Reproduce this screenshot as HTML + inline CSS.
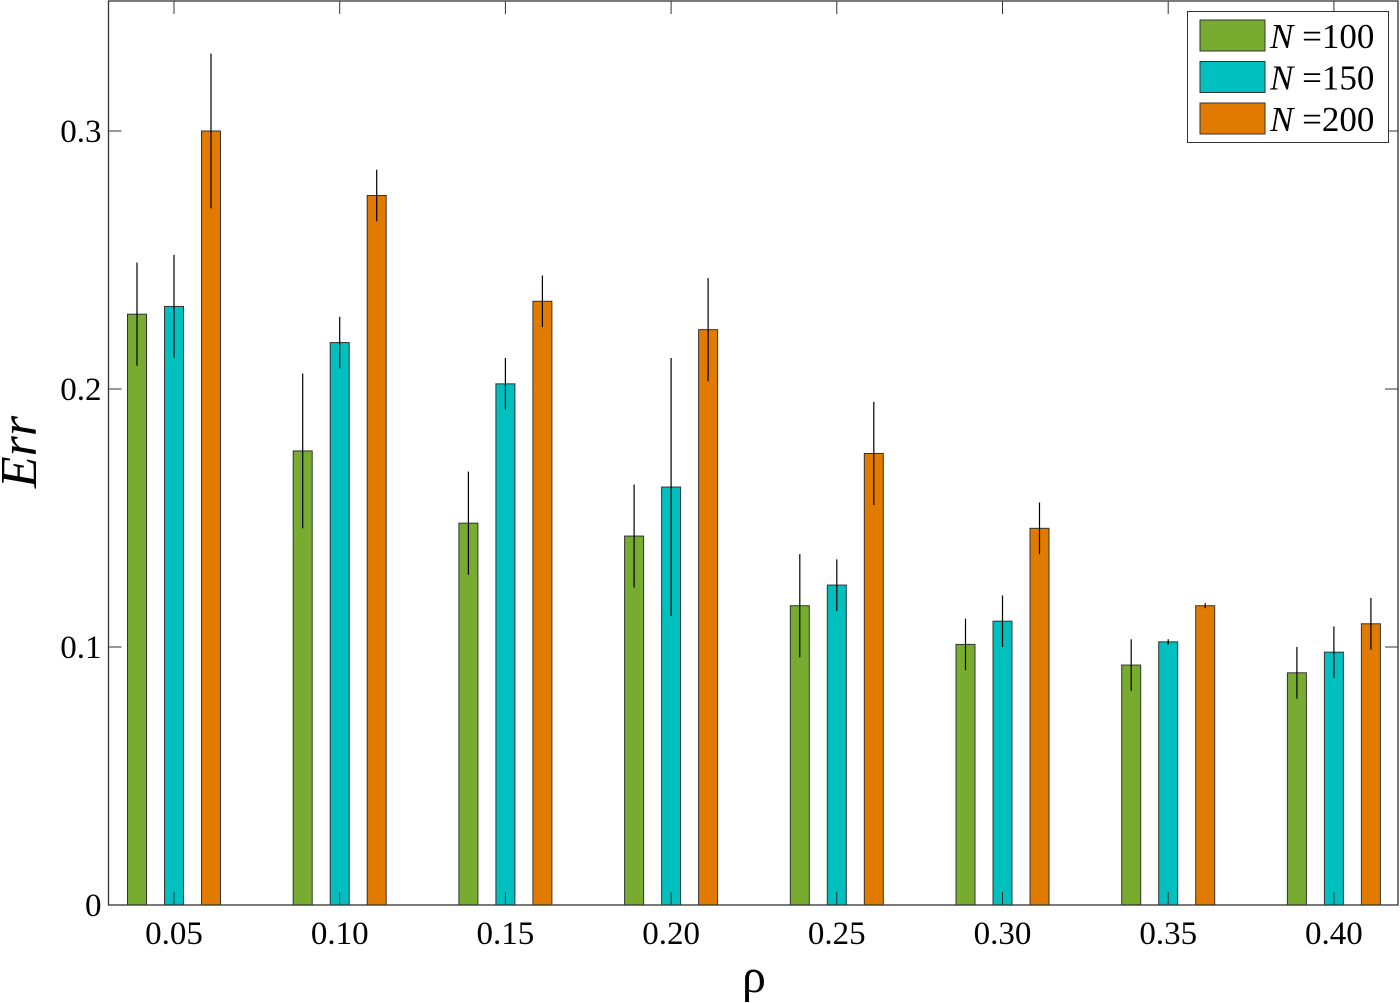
<!DOCTYPE html>
<html><head><meta charset="utf-8"><style>
body{margin:0;background:#fff}
svg{display:block;font-family:"Liberation Serif",serif}
svg text, svg tspan{font-family:"Liberation Serif",serif}
</style></head><body>
<svg id="c" width="1400" height="1003" font-family="Liberation Serif, serif"></svg>
<script>
const categories=["0.05","0.10","0.15","0.20","0.25","0.30","0.35","0.40"];
const seriesNames=["N =100","N =150","N =200"];
const n100=[0.229,0.176,0.148,0.143,0.116,0.101,0.093,0.090];
const n150=[0.232,0.218,0.202,0.162,0.124,0.110,0.102,0.098];
const n200=[0.300,0.275,0.234,0.223,0.175,0.146,0.116,0.109];
const e100=[0.02,0.03,0.02,0.02,0.02,0.01,0.01,0.01];
const e150=[0.02,0.01,0.01,0.05,0.01,0.01,0.001,0.01];
const e200=[0.03,0.01,0.01,0.02,0.02,0.01,0.001,0.01];
const yTicks=[0,0.1,0.2,0.3];
const yTickLabels=["0","0.1","0.2","0.3"];
const colors=["#77ac30","#00bfbf","#e07b00"];
const NS="http://www.w3.org/2000/svg";
const svg=document.getElementById('c');
const L=108.5,R=1398,B=905,T=1;
const y=v=>B-v*2580;
const x=i=>174+i*165.7;
function mk(t,a,p){const e=document.createElementNS(NS,t);for(const k in a)e.setAttribute(k,a[k]);(p||svg).appendChild(e);return e;}
const vals=[n100,n150,n200],errs=[e100,e150,e200];
vals.forEach((s,si)=>{s.forEach((v,i)=>{
 const cx=x(i)+(si-1)*37;
 const r=mk('rect',{x:cx-9.5,y:y(v),width:19,height:B-y(v),fill:colors[si],stroke:'#333','stroke-width':1});
 
 
 const l=mk('line',{x1:cx,x2:cx,y1:y(v+errs[si][i]),y2:y(v-errs[si][i]),stroke:'#000','stroke-width':1.2});
 
 
});});
const fr=mk('rect',{x:L,y:T,width:R-L,height:B-T,fill:'none',stroke:'#333','stroke-width':1.3});


const F='Liberation Serif, serif';
yTicks.forEach((t,i)=>{
 mk('line',{x1:L,x2:L+13,y1:y(t),y2:y(t),stroke:'#333'});
 mk('line',{x1:R-13,x2:R,y1:y(t),y2:y(t),stroke:'#333'});
 const tx=mk('text',{x:L-7,y:y(t)+11,'text-anchor':'end','font-size':33,'font-family':F});
 tx.textContent=yTickLabels[i];
 
 
});
categories.forEach((c,i)=>{
 mk('line',{x1:x(i),x2:x(i),y1:B,y2:B-13,stroke:'#333'});
 mk('line',{x1:x(i),x2:x(i),y1:T,y2:T+13,stroke:'#333'});
 const tx=mk('text',{x:x(i),y:944,'text-anchor':'middle','font-size':33,'font-family':F});
 tx.textContent=c;
 
 
});
const xl=mk('text',{x:754,y:992,'text-anchor':'middle','font-size':48,'font-family':F});xl.textContent='ρ';


const yl=mk('text',{x:0,y:0,'text-anchor':'middle','font-size':52,'font-style':'italic','font-family':F,transform:'translate(36,452) rotate(-90)'});yl.textContent='Err';


const lg=mk('rect',{x:1187.5,y:11.5,width:201,height:131,fill:'#fff',stroke:'#333'});


seriesNames.forEach((s,i)=>{
 const yy=20+i*41.5;
 mk('rect',{x:1200,y:yy,width:65,height:31,fill:colors[i],stroke:'#333'});
 const t=mk('text',{x:1270,y:yy+28,'font-size':35,'font-family':F});
 t.textContent='';
 const a=mk('tspan',{'font-style':'italic','font-family':F},t);a.textContent='N';
 const b=mk('tspan',{'font-family':F},t);b.textContent='\u00a0='+s.split('=')[1];
 
 
});
</script>
</body></html>
